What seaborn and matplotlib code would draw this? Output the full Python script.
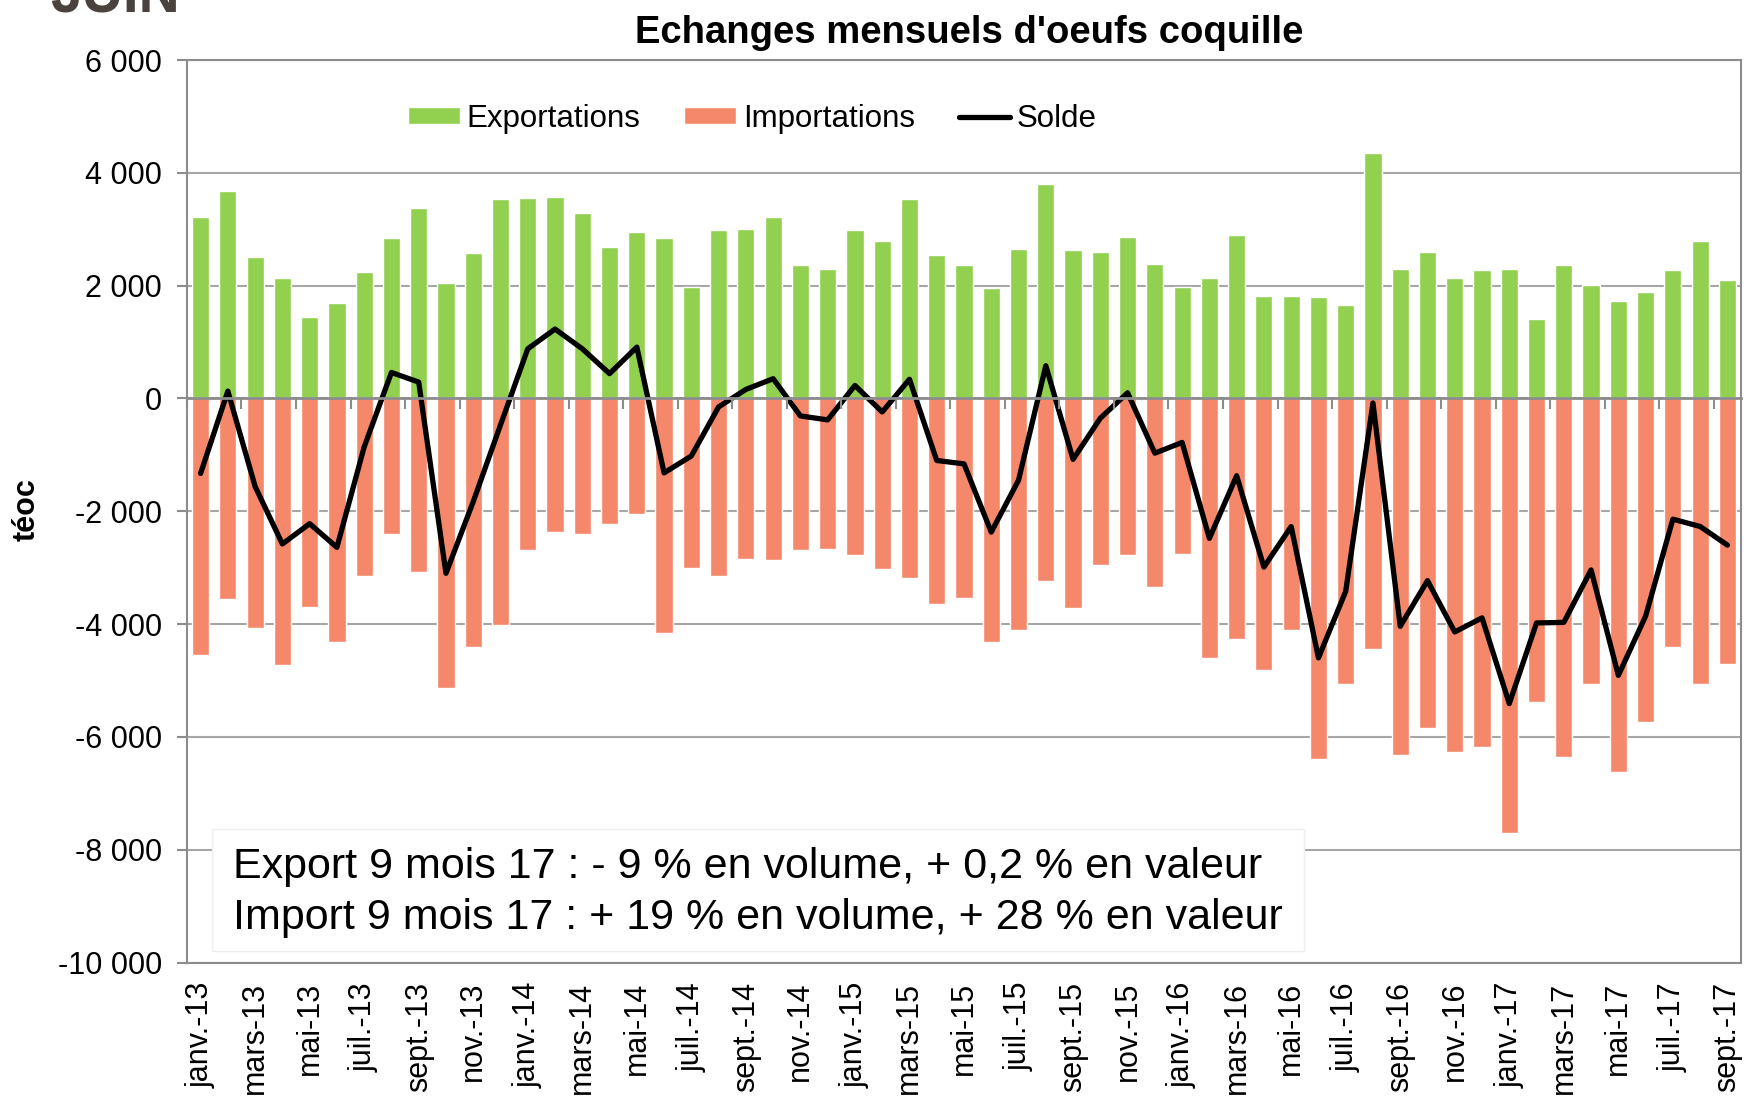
import numpy as np
import pandas as pd
import seaborn as sns
import matplotlib.pyplot as plt
from matplotlib.patches import Rectangle

# mois et annees (axe des categories)
mois = ['janv.', 'févr.', 'mars', 'avr.', 'mai', 'juin',
        'juil.', 'août', 'sept.', 'oct.', 'nov.', 'déc.']
annees = ['13', '14', '15', '16', '17']

# valeurs (teoc)
exportations = [3220, 3670, 2510, 2140, 1450, 1690, 2250, 2850, 3370, 2050,
                2580, 3530, 3560, 3570, 3290, 2680, 2950, 2850, 1980, 2990,
                3010, 3210, 2360, 2290, 2990, 2800, 3530, 2550, 2370, 1950,
                2650, 3810, 2640, 2600, 2870, 2390, 1970, 2130, 2890, 1820,
                1820, 1800, 1660, 4360, 2290, 2600, 2140, 2280, 2300, 1400,
                2370, 2020, 1720, 1880, 2270, 2800, 2100]
importations = [-4540, -3550, -4070, -4730, -3690, -4320, -3140, -2400, -3080, -5140,
                -4410, -4010, -2680, -2360, -2410, -2230, -2040, -4150, -3000, -3150,
                -2850, -2860, -2690, -2670, -2780, -3020, -3180, -3650, -3540, -4310,
                -4110, -3230, -3710, -2960, -2780, -3350, -2760, -4600, -4270, -4810,
                -4100, -6390, -5070, -4440, -6320, -5840, -6270, -6180, -7710, -5380,
                -6350, -5060, -6630, -5740, -4410, -5070, -4700]
solde = [-1330, 130, -1560, -2580, -2220, -2640, -860, 460, 290, -3100,
         -1830, -470, 880, 1230, 880, 440, 910, -1320, -1020, -150,
         160, 350, -310, -380, 230, -240, 340, -1100, -1160, -2370,
         -1450, 580, -1080, -350, 100, -970, -780, -2480, -1370, -2990,
         -2270, -4600, -3420, -80, -4040, -3230, -4140, -3890, -5410, -3980,
         -3970, -3040, -4910, -3860, -2140, -2270, -2600]

texte_encadre = ("Export 9 mois 17 : - 9 % en volume, + 0,2 % en valeur\n"
                 "Import 9 mois 17 : + 19 % en volume, + 28 % en valeur")

labels = [m + '-' + a for a in annees for m in mois][:len(exportations)]
df = pd.DataFrame({'mois': labels, 'exp': exportations,
                   'imp': importations, 'solde': solde})

vert = '#92d050'
orange = '#f5886a'
gris = '#8c8c8c'

sns.set_style('white')
plt.rcParams['font.family'] = ['Liberation Sans', 'DejaVu Sans']
plt.rcParams['text.color'] = 'black'
plt.rcParams['axes.labelcolor'] = 'black'

fig = plt.figure(figsize=(17.44, 10.99), dpi=100)
ax = fig.add_axes([0.1072, 0.1242, 0.8911, 0.8212])

sns.barplot(data=df, x='mois', y='exp', color=vert, saturation=1, width=0.63,
            label='Exportations', ax=ax, zorder=2)
sns.barplot(data=df, x='mois', y='imp', color=orange, saturation=1, width=0.63,
            label='Importations', ax=ax, zorder=2)
sns.lineplot(data=df, x=df.index, y='solde', color='black', lw=3.8,
             label='Solde', ax=ax, zorder=4)

ax.set_xlim(-0.5, len(df) - 0.5)
ax.set_ylim(-10000, 6000)
yt = list(range(-10000, 6001, 2000))
ax.set_yticks(yt)
ax.set_yticklabels([f'{v:,}'.replace(',', ' ') for v in yt], fontsize=22)
ax.set_xticks(range(0, len(df), 2))
ax.set_xticklabels(labels[::2], rotation=90, fontsize=22, va='top', ha='center')
ax.tick_params(axis='x', length=0, pad=14, labelcolor='black')
ax.tick_params(axis='y', left=True, length=7, width=1.5, color=gris, pad=11,
               labelcolor='black')
ax.set_xlabel('')
ax.set_ylabel('')
ax.yaxis.grid(True, color='#a6a6a6', lw=1.5)
ax.set_axisbelow(True)
for s in ax.spines.values():
    s.set_color(gris)
    s.set_linewidth(1.5)

# axe des categories a zero avec petites graduations
ax2 = ax.twiny()
ax2.set_xlim(ax.get_xlim())
for s in ['top', 'right', 'left']:
    ax2.spines[s].set_visible(False)
ax2.spines['bottom'].set_position(('data', 0))
ax2.spines['bottom'].set_color(gris)
ax2.spines['bottom'].set_linewidth(2)
ax2.set_xticks(np.arange(-0.5, len(df), 2))
ax2.xaxis.set_ticks_position('bottom')
ax2.tick_params(axis='x', bottom=True, top=False, labelbottom=False, labeltop=False,
                length=8, width=1.5, color=gris)

# legende dans l'ordre Exportations, Importations, Solde
handles, noms = ax.get_legend_handles_labels()
ordre = [noms.index(n) for n in ['Exportations', 'Importations', 'Solde']]
ax.legend([handles[i] for i in ordre], [noms[i] for i in ordre],
          loc='center', bbox_to_anchor=(0.364, 0.935), ncol=3, frameon=False,
          fontsize=22.5, handlelength=1.65, handleheight=0.5, handletextpad=0.22,
          columnspacing=1.4)

ax.add_patch(Rectangle((0.0161, 0.0127), 0.7027, 0.1352, transform=ax.transAxes,
                       facecolor='white', edgecolor='#eeeeee', lw=1, zorder=5))
ax.text(0.0296, 0.128, texte_encadre, transform=ax.transAxes, fontsize=31,
        va='top', ha='left', linespacing=1.36, zorder=6)

fig.text(0.556, 0.961, "Echanges mensuels d'oeufs coquille", ha='center',
         va='baseline', fontsize=27.5, fontweight='bold')
fig.text(27 / 1744, 1 - 510 / 1099, 'téoc', rotation=90, ha='center', va='center',
         fontsize=22, fontweight='bold')
fig.text(50 / 1744, 1 - 12 / 1099, 'JUIN', ha='left', va='baseline', fontsize=41,
         fontweight='bold', color='#4a423e')

fig.savefig('out.png', dpi=100)
